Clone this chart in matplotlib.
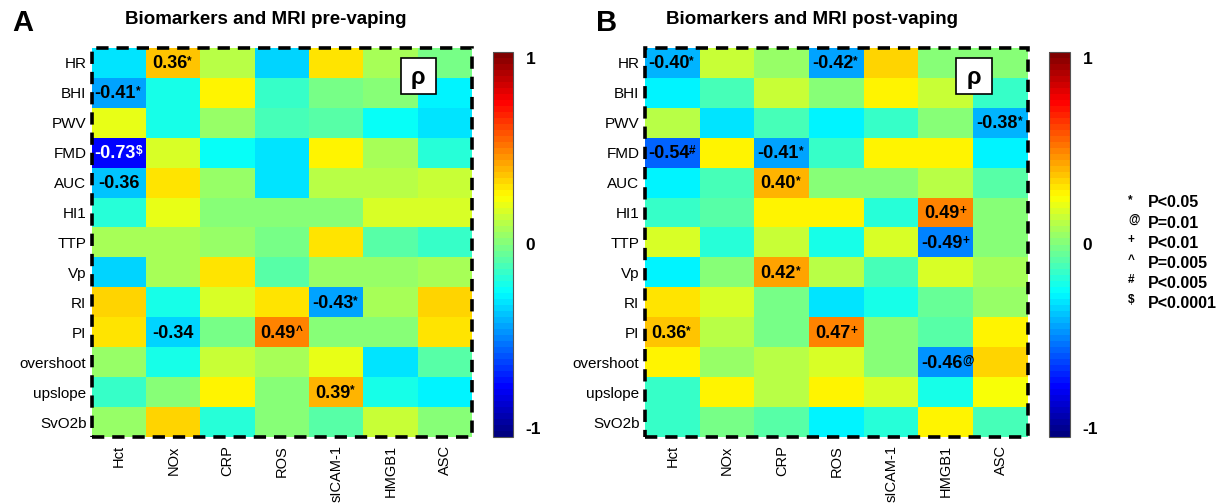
import matplotlib
matplotlib.use("Agg")
import matplotlib.pyplot as plt
import numpy as np
from matplotlib.colors import LinearSegmentedColormap
from matplotlib.patches import Rectangle
from matplotlib import font_manager as fm

# ---------------- data ----------------
rows = ['HR', 'BHI', 'PWV', 'FMD', 'AUC', 'HI1', 'TTP', 'Vp', 'RI', 'PI',
        'overshoot', 'upslope', 'SvO2b']
cols = ['Hct', 'NOx', 'CRP', 'ROS', 'sICAM-1', 'HMGB1', 'ASC']

pre_rho = [
    [-0.30, 0.36, 0.12, -0.32, 0.30, 0.07, -0.03],   # HR
    [-0.41, -0.20, 0.25, -0.13, -0.03, 0.00, -0.28],  # BHI
    [0.20, -0.20, 0.05, -0.11, -0.09, -0.24, -0.30],  # PWV
    [-0.73, 0.17, -0.23, -0.31, 0.27, 0.08, -0.16],   # FMD
    [-0.36, 0.31, 0.06, -0.30, 0.10, 0.10, 0.14],     # AUC
    [-0.18, 0.21, 0.02, 0.00, 0.00, 0.16, 0.17],      # HI1
    [0.08, 0.08, 0.04, -0.02, 0.29, -0.09, -0.15],    # TTP
    [-0.32, 0.08, 0.29, -0.09, 0.04, 0.04, 0.08],     # Vp
    [0.32, -0.20, 0.16, 0.29, -0.43, 0.08, 0.32],     # RI
    [0.29, -0.34, -0.03, 0.49, 0.00, 0.03, 0.29],     # PI
    [0.05, -0.20, 0.14, 0.08, 0.19, -0.30, -0.09],    # overshoot
    [-0.14, 0.00, 0.26, 0.00, 0.39, -0.20, -0.28],    # upslope
    [0.05, 0.34, -0.18, 0.02, -0.09, 0.14, 0.02],     # SvO2b
]
post_rho = [
    [-0.40, 0.14, 0.06, -0.42, 0.32, 0.02, 0.02],     # HR
    [-0.28, -0.11, 0.14, 0.02, 0.25, 0.15, -0.13],    # BHI
    [0.12, -0.30, -0.11, -0.28, -0.13, 0.02, -0.38],  # PWV
    [-0.54, 0.27, -0.41, -0.15, 0.28, 0.28, -0.27],   # FMD
    [-0.28, -0.11, 0.40, 0.00, 0.00, 0.10, -0.09],    # AUC
    [-0.13, -0.09, 0.28, 0.28, -0.18, 0.49, 0.00],    # HI1
    [0.17, -0.18, 0.14, -0.20, 0.16, -0.49, 0.00],    # TTP
    [-0.28, 0.00, 0.42, 0.10, -0.11, 0.17, 0.08],     # Vp
    [0.31, 0.17, -0.02, -0.30, -0.20, -0.05, 0.05],   # RI
    [0.36, 0.10, -0.03, 0.47, 0.02, -0.07, 0.25],     # PI
    [0.27, 0.06, 0.12, 0.16, 0.02, -0.46, 0.32],      # overshoot
    [-0.13, 0.25, 0.10, 0.27, 0.16, -0.20, 0.24],     # upslope
    [-0.13, -0.03, -0.09, -0.28, -0.18, 0.25, -0.11], # SvO2b
]

# (row, col, significance symbol)
pre_sig = [(0, 1, '*'), (1, 0, '*'), (3, 0, '$'), (4, 0, ''), (8, 4, '*'),
           (9, 1, ''), (9, 3, '^'), (11, 4, '*')]
post_sig = [(0, 0, '*'), (0, 3, '*'), (2, 6, '*'), (3, 0, '#'), (3, 2, '*'),
            (4, 2, '*'), (5, 5, '+'), (6, 5, '+'), (7, 2, '*'), (9, 0, '*'),
            (9, 3, '+'), (10, 5, '@')]

titles = ['Biomarkers and MRI pre-vaping', 'Biomarkers and MRI post-vaping']
panel_letters = ['A', 'B']
legend_symbols = ['*', '@', '+', '^', '#', '$']
legend_labels = ['P<0.05', 'P=0.01', 'P<0.01', 'P=0.005', 'P<0.005', 'P<0.0001']
cbar_ticks = [-1, 0, 1]

# ---------------- style ----------------
plt.rcParams['font.family'] = 'Liberation Sans'
names = {f.name for f in fm.fontManager.ttflist}
if 'Liberation Sans Narrow' in names:
    title_font = dict(family='Liberation Sans Narrow', fontsize=15.5)
else:
    title_font = dict(family='Liberation Sans', fontsize=13.5)

# MATLAB-style jet colormap (64 levels)
jet_data = {
    'red': [(0, 0, 0), (3/8, 0, 0), (5/8, 1, 1), (7/8, 1, 1), (1, 0.5, 0.5)],
    'green': [(0, 0, 0), (1/8, 0, 0), (3/8, 1, 1), (5/8, 1, 1), (7/8, 0, 0), (1, 0, 0)],
    'blue': [(0, 0.5, 0.5), (1/8, 1, 1), (3/8, 1, 1), (5/8, 0, 0), (1, 0, 0)],
}
cmap = LinearSegmentedColormap('mjet', jet_data, N=64)

W, H = 1230, 503
fig = plt.figure(figsize=(W / 100, H / 100), dpi=100)


def fx(px):
    return px / W


def fy(py):
    return 1 - py / H


heat_boxes = [(92, 48, 472, 437), (645, 48, 1028, 437)]
cbar_boxes = [(493, 52, 513, 437), (1049, 52, 1070, 437)]
title_x = [266, 812]
letter_x = [12, 596]

for p, (data, sig) in enumerate([(pre_rho, pre_sig), (post_rho, post_sig)]):
    x0, y0, x1, y1 = heat_boxes[p]
    ax = fig.add_axes([fx(x0), fy(y1), fx(x1 - x0), (y1 - y0) / H])
    arr = np.array(data)
    im = ax.imshow(arr, cmap=cmap, vmin=-1, vmax=1, aspect='auto',
                   interpolation='nearest')
    ax.set_xticks(range(len(cols)))
    ax.set_xticklabels(cols, rotation=90, fontsize=10.5, va='top')
    ax.set_yticks(range(len(rows)))
    ax.set_yticklabels(rows, fontsize=11)
    ax.tick_params(axis='y', length=0, pad=4)
    ax.tick_params(axis='x', length=0, pad=6)
    for s in ax.spines.values():
        s.set_visible(False)
    ax.add_patch(Rectangle((0, 0), 1, 1, transform=ax.transAxes, fill=False,
                           ec='black', lw=2.6, ls=(0, (3.4, 2.2)),
                           clip_on=False, zorder=5))
    # significant correlations
    for (r, c, sym) in sig:
        v = arr[r, c]
        col = 'white' if v < -0.6 else 'black'
        t = ax.text(c - (0.07 if sym else 0.0), r + 0.03, f'{v:.2f}',
                    ha='center', va='center', fontsize=13,
                    fontweight='bold', color=col, zorder=4)
        if sym:
            ax.annotate(sym, xy=(1.0, 1.0), xycoords=t, ha='left', va='top',
                        fontsize=8.5, fontweight='bold', color=col, zorder=4)
    # rho box
    ax.add_patch(Rectangle((0.813, 0.882), 0.092, 0.092, transform=ax.transAxes,
                           fc='white', ec='black', lw=1.2, zorder=6))
    ax.text(0.859, 0.924, 'ρ', transform=ax.transAxes, ha='center',
            va='center', fontsize=17, fontweight='bold', zorder=7)

    # colorbar
    cx0, cy0, cx1, cy1 = cbar_boxes[p]
    cax = fig.add_axes([fx(cx0), fy(cy1), fx(cx1 - cx0), (cy1 - cy0) / H])
    cb = fig.colorbar(im, cax=cax, ticks=cbar_ticks)
    cb.ax.set_yticklabels([str(t) for t in cbar_ticks], fontsize=12.5,
                          fontweight='bold')
    labs = cb.ax.get_yticklabels()
    labs[0].set_va('bottom')
    labs[-1].set_va('top')
    cb.ax.tick_params(length=0, pad=9)
    cb.outline.set_linewidth(0.8)
    cb.outline.set_edgecolor('#555555')

    # titles
    fig.text(fx(title_x[p]), fy(20), titles[p], ha='center', va='center',
             fontweight='bold', **title_font)
    fig.text(fx(letter_x[p]), fy(23), panel_letters[p], ha='left',
             va='center', fontsize=21, fontweight='bold')

# significance legend
for i, (s, lab) in enumerate(zip(legend_symbols, legend_labels)):
    yy = 203 + 20 * i
    fig.text(fx(1128), fy(yy - 3), s, ha='left', va='center', fontsize=8.5,
             fontweight='bold')
    fig.text(fx(1148), fy(yy), lab, ha='left', va='center', fontsize=11.5,
             fontweight='bold')

fig.savefig('out.png', dpi=100)
